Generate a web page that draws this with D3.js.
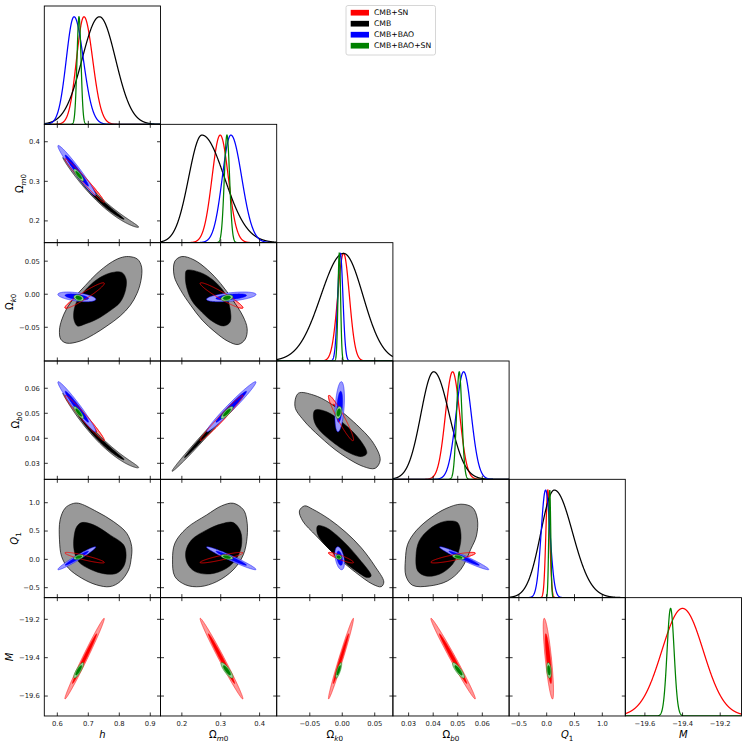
<!DOCTYPE html>
<html><head><meta charset="utf-8">
<script src="https://cdn.jsdelivr.net/npm/d3@7/dist/d3.min.js"></script>
<style>html,body{margin:0;padding:0;background:#fff;} svg{display:block;}</style>
</head><body>
<svg id="chart" width="748" height="748" xmlns="http://www.w3.org/2000/svg"></svg>
<script>
// ---------- parameters / axes ----------
const paramKeys = ["h","Om","Ok","Ob","Q1","M"];
const paramRanges = [[0.558,0.933],[0.145,0.444],[-0.101,0.078],[0.0236,0.0709],[-0.676,1.413],[-19.704,-19.087]];
const tickValues = [[0.6,0.7,0.8,0.9],[0.2,0.3,0.4],[-0.05,0,0.05],[0.03,0.04,0.05,0.06],[-0.5,0,0.5,1.0],[-19.6,-19.4,-19.2]];
const tickLabels = [["0.6","0.7","0.8","0.9"],["0.2","0.3","0.4"],["\u22120.05","0.00","0.05"],["0.03","0.04","0.05","0.06"],["\u22120.5","0.0","0.5","1.0"],["\u221219.6","\u221219.4","\u221219.2"]];
const labelMain = ["h","\u03A9","\u03A9","\u03A9","Q","M"];
const labelMainItalic = [true,false,false,false,true,true];
const labelSubText = ["","m0","k0","b0","1",""];

// ---------- datasets ----------
const datasetNames = ["CMB+SN","CMB","CMB+BAO","CMB+BAO+SN"];
const datasetColors = ["#ff0000","#000000","#0000ff","#008000"];
const datasetPale = ["#ff9999","#999999","#9999ff","#99cc99"];

// 1D marginals: peak position and left/right widths (order h, Om, Ok, Ob, Q1, M)
const peakRed    = [0.686, 0.2986, 0.002, 0.0479, 0.02, -19.40];
const sdLeftRed  = [0.024, 0.021, 0.009, 0.0029, 0.035, 0.11];
const sdRightRed = [0.028, 0.021, 0.009, 0.0029, 0.035, 0.11];
const peakCMB    = [0.736, 0.2515, 0.002, 0.0402, 0.137, null];
const sdLeftCMB  = [0.056, 0.034, 0.035, 0.0052, 0.242, null];
const sdRightCMB = [0.052, 0.058, 0.030, 0.0063, 0.327, null];
const peakBAO    = [0.654, 0.326, -0.003, 0.0524, -0.02, null];
const sdLeftBAO  = [0.025, 0.022, 0.004, 0.0031, 0.08, null];
const sdRightBAO = [0.030, 0.028, 0.004, 0.0031, 0.08, null];
const peakAll    = [0.670, 0.316, -0.0046, 0.0506, 0.055, -19.4635];
const sdLeftAll  = [0.0065, 0.0068, 0.002, 0.0011, 0.018, 0.0187];
const sdRightAll = [0.0065, 0.0068, 0.002, 0.0011, 0.018, 0.0187];

// 2D Gaussian contours: centre, width, correlations
// pair order: hOm,hOk,hOb,hQ1,hM,OmOk,OmOb,OmQ1,OmM,OkOb,OkQ1,OkM,ObQ1,ObM,Q1M
const center2Red = [0.688, 0.302, -0.002, 0.0481, 0.03, -19.405];
const sd2Red     = [0.026, 0.0225, 0.0079, 0.0037, 0.038, 0.086];
const corrRed    = [-0.985,0.95,-0.98,-0.9,0.99,-0.95,0.985,0.9,-0.99,-0.95,-0.9,0.985,0.85,-0.99,-0.8];
const center2BAO = [0.663, 0.327, -0.004, 0.0526, 0.02, null];
const sd2BAO     = [0.025, 0.026, 0.003, 0.0041, 0.083, null];
const corrBAO    = [-0.975,-0.5,-0.975,0.97,null,0.5,0.98,-0.97,null,0.35,-0.4,null,-0.97,null,null];
const center2All = [0.669, 0.316, -0.0055, 0.0503, 0.04, -19.466];
const sd2All     = [0.0065, 0.0063, 0.0019, 0.001, 0.017, 0.0166];
const corrAll    = [-0.85,-0.3,-0.85,0.5,0.85,0.3,0.85,-0.5,-0.85,0.3,-0.2,0.8,-0.5,-0.85,-0.3];

// CMB alone: thin curved degeneracies
const cmbThinPairs  = [[0,1],[0,3],[1,3]];
const cmbThinCenter = [[0.740,0.2537],[0.740,0.0398],[0.258,0.041]];
const cmbThinSd     = [[0.050,0.036],[0.050,0.0061],[0.034,0.0058]];
const cmbThinCorr   = [-0.995,-0.995,0.995];
const cmbThinBend   = [0.0037,0.00068,0];

// CMB alone: broad contours read as outlines (data units)
const cmbOuter_h_Ok = [[0.830,0.057],[0.859,0.053],[0.872,0.041],[0.870,0.021],[0.857,0.001],[0.835,-0.017],[0.803,-0.033],[0.760,-0.048],[0.717,-0.061],[0.673,-0.071],[0.630,-0.074],[0.611,-0.068],[0.607,-0.054],[0.614,-0.039],[0.630,-0.022],[0.657,-0.004],[0.690,0.013],[0.727,0.031],[0.770,0.047],[0.803,0.055]];
const cmbInner_h_Ok = [[0.808,0.033],[0.822,0.023],[0.820,0.006],[0.803,-0.012],[0.770,-0.025],[0.727,-0.038],[0.690,-0.045],[0.665,-0.048],[0.654,-0.039],[0.654,-0.024],[0.665,-0.009],[0.690,0.006],[0.727,0.022],[0.770,0.032]];
const cmbOuter_Om_Ok = [[0.200,0.057],[0.231,0.052],[0.266,0.037],[0.300,0.016],[0.330,-0.008],[0.357,-0.033],[0.368,-0.052],[0.363,-0.068],[0.345,-0.076],[0.318,-0.071],[0.285,-0.057],[0.252,-0.039],[0.223,-0.017],[0.196,0.007],[0.180,0.028],[0.182,0.050]];
const cmbInner_Om_Ok = [[0.212,0.036],[0.247,0.033],[0.281,0.021],[0.311,0.001],[0.324,-0.022],[0.324,-0.042],[0.308,-0.048],[0.281,-0.042],[0.251,-0.027],[0.225,-0.009],[0.212,0.011],[0.209,0.028]];
const cmbOuter_h_Q1 = [[0.668,0.991],[0.727,0.844],[0.781,0.668],[0.824,0.461],[0.840,0.226],[0.838,0.0],[0.830,-0.186],[0.803,-0.392],[0.770,-0.481],[0.727,-0.451],[0.679,-0.333],[0.636,-0.157],[0.614,0.049],[0.607,0.344],[0.609,0.697],[0.625,0.903],[0.647,0.979]];
const cmbInner_h_Q1 = [[0.679,0.650],[0.717,0.609],[0.770,0.432],[0.814,0.256],[0.822,0.079],[0.814,-0.127],[0.792,-0.245],[0.754,-0.257],[0.706,-0.174],[0.668,-0.039],[0.654,0.167],[0.654,0.402],[0.663,0.579]];
const cmbOuter_Om_Q1 = [[0.332,0.991],[0.358,0.879],[0.367,0.697],[0.368,0.402],[0.358,0.079],[0.332,-0.186],[0.290,-0.392],[0.247,-0.481],[0.210,-0.451],[0.182,-0.304],[0.176,-0.009],[0.182,0.285],[0.212,0.550],[0.264,0.785],[0.302,0.944]];
const cmbInner_Om_Q1 = [[0.332,0.650],[0.351,0.491],[0.353,0.226],[0.341,0.020],[0.315,-0.157],[0.273,-0.257],[0.234,-0.216],[0.214,-0.069],[0.210,0.138],[0.225,0.344],[0.264,0.520],[0.302,0.627]];
const cmbOuter_Ok_Ob = [[-0.0676,0.0580],[-0.0445,0.0573],[-0.0187,0.0540],[0.0173,0.0466],[0.0481,0.0380],[0.0584,0.0313],[0.0507,0.0280],[0.0327,0.0287],[-0.0033,0.0340],[-0.0342,0.0406],[-0.0599,0.0473],[-0.0728,0.0526]];
const cmbInner_Ok_Ob = [[-0.0419,0.0513],[-0.0239,0.0506],[0.0018,0.0460],[0.0275,0.0393],[0.0378,0.0340],[0.0301,0.0327],[0.0121,0.0340],[-0.0187,0.0393],[-0.0393,0.0446],[-0.0445,0.0486]];
const cmbOuter_Ok_Q1 = [[-0.058,0.944],[-0.0455,0.885],[-0.020,0.709],[0.006,0.473],[0.029,0.208],[0.050,-0.116],[0.064,-0.399],[0.060,-0.482],[0.047,-0.440],[0.021,-0.234],[-0.0095,0.061],[-0.040,0.414],[-0.061,0.679],[-0.066,0.856]];
const cmbInner_Ok_Q1 = [[-0.038,0.591],[-0.025,0.562],[0.001,0.326],[0.0265,0.002],[0.0445,-0.293],[0.039,-0.322],[0.021,-0.204],[-0.002,0.002],[-0.025,0.237],[-0.038,0.444]];
const cmbOuter_Ob_Q1 = [[0.0513,0.974],[0.0560,0.915],[0.0580,0.709],[0.0576,0.414],[0.0553,0.179],[0.0513,-0.175],[0.0458,-0.381],[0.0384,-0.470],[0.0316,-0.458],[0.0289,-0.293],[0.0287,0.002],[0.0296,0.266],[0.0330,0.503],[0.0391,0.738],[0.0452,0.897]];
const cmbInner_Ob_Q1 = [[0.0465,0.679],[0.0499,0.650],[0.0513,0.444],[0.0506,0.179],[0.0479,-0.086],[0.0425,-0.263],[0.0370,-0.293],[0.0337,-0.204],[0.0330,0.061],[0.0343,0.326],[0.0384,0.532],[0.0431,0.650]];
const cmbPolyPairs = [[0,2],[1,2],[0,4],[1,4],[2,3],[2,4],[3,4]];
const cmbPolyOuter = [cmbOuter_h_Ok,cmbOuter_Om_Ok,cmbOuter_h_Q1,cmbOuter_Om_Q1,cmbOuter_Ok_Ob,cmbOuter_Ok_Q1,cmbOuter_Ob_Q1];
const cmbPolyInner = [cmbInner_h_Ok,cmbInner_Om_Ok,cmbInner_h_Q1,cmbInner_Om_Q1,cmbInner_Ok_Ob,cmbInner_Ok_Q1,cmbInner_Ob_Q1];

// ---------- layout ----------
const svg = d3.select("#chart");
const FONT = "DejaVu Sans, Liberation Sans, sans-serif";
const L0 = 44.3, PW = 116.2, T0 = 6, PH = 118.33, NP = 6;
const TICK = 3.5, TICKFS = 6.8, LABFS = 10;
const R68 = Math.sqrt(-2*Math.log(0.32)), R95 = Math.sqrt(-2*Math.log(0.05));
const xScale = j => d3.scaleLinear().domain(paramRanges[j]).range([L0 + j*PW, L0 + (j+1)*PW]);
const yScale = i => d3.scaleLinear().domain(paramRanges[i]).range([T0 + (i+1)*PH, T0 + i*PH]);
const pairOrder = [];
for (let a=0;a<NP;a++) for (let b=a+1;b<NP;b++) pairOrder.push([a,b]);
const pairIndex = (a,b) => pairOrder.findIndex(p => p[0]===a && p[1]===b);

const defs = svg.append("defs");
for (let i=0;i<NP;i++) for (let j=0;j<=i;j++) {
  defs.append("clipPath").attr("id",`clip-${i}-${j}`).append("rect")
    .attr("x", L0 + j*PW).attr("y", T0 + i*PH).attr("width", PW).attr("height", PH);
}

// ---------- 1D marginals ----------
const series1D = [
  {peak: peakRed, sdL: sdLeftRed, sdR: sdRightRed, color: datasetColors[0]},
  {peak: peakCMB, sdL: sdLeftCMB, sdR: sdRightCMB, color: datasetColors[1]},
  {peak: peakBAO, sdL: sdLeftBAO, sdR: sdRightBAO, color: datasetColors[2]},
  {peak: peakAll, sdL: sdLeftAll, sdR: sdRightAll, color: datasetColors[3]}
];
for (let k=0;k<NP;k++) {
  const xs = xScale(k);
  const ys = d3.scaleLinear().domain([0,1.1]).range([T0 + (k+1)*PH, T0 + k*PH]);
  const g = svg.append("g").attr("clip-path", `url(#clip-${k}-${k})`);
  const grid = d3.range(0, 1201).map(q => paramRanges[k][0] + (paramRanges[k][1]-paramRanges[k][0])*q/1200);
  series1D.forEach(s => {
    if (s.peak[k] == null) return;
    const dens = x => { const sd = x < s.peak[k] ? s.sdL[k] : s.sdR[k]; const z = (x - s.peak[k])/sd; return Math.exp(-0.5*z*z); };
    g.append("path").attr("d", d3.line().x(x => xs(x)).y(x => ys(dens(x)))(grid))
      .attr("fill","none").attr("stroke", s.color).attr("stroke-width", 1.25);
  });
}

// ---------- 2D contours ----------
function ellipsePts(mx,my,sx,sy,rho,bend,r) {
  const q = Math.sqrt(1 - rho*rho), pts = [];
  for (let k=0;k<=240;k++) {
    const t = 2*Math.PI*k/240, a = r*Math.cos(t), b = r*Math.sin(t);
    pts.push([mx + sx*a, my + sy*(rho*a + q*b) + bend*(a*a - 1)]);
  }
  return pts;
}
const gaussSets = [
  {center: center2Red, sd: sd2Red, corr: corrRed, ds: 0},
  {center: center2BAO, sd: sd2BAO, corr: corrBAO, ds: 2},
  {center: center2All, sd: sd2All, corr: corrAll, ds: 3}
];
for (let i=1;i<NP;i++) for (let j=0;j<i;j++) {
  const xs = xScale(j), ys = yScale(i);
  const g = svg.append("g").attr("clip-path", `url(#clip-${i}-${j})`);
  const line = d3.line().x(d => xs(d[0])).y(d => ys(d[1]));
  const smooth = d3.line().x(d => xs(d[0])).y(d => ys(d[1])).curve(d3.curveCatmullRomClosed.alpha(0.5));
  const drawGauss = (set, linesOnly) => {
    const c = set.center, s = set.sd;
    if (c[j] == null || c[i] == null) return;
    const rho = set.corr[pairIndex(j,i)];
    const col = datasetColors[set.ds], pale = datasetPale[set.ds];
    const outer = ellipsePts(c[j], c[i], s[j], s[i], rho, 0, R95);
    if (linesOnly) {
      g.append("path").attr("d", line(outer)).attr("fill","none").attr("stroke", col).attr("stroke-width", 0.8);
      return;
    }
    const inner = ellipsePts(c[j], c[i], s[j], s[i], rho, 0, R68);
    g.append("path").attr("d", line(outer)).attr("fill", pale).attr("stroke", col).attr("stroke-width", 0.5);
    g.append("path").attr("d", line(inner)).attr("fill", col).attr("stroke", col).attr("stroke-width", 0.5);
  };
  // CMB+SN fills
  drawGauss(gaussSets[0], false);
  // CMB alone
  let hasCMB = false;
  const tIdx = cmbThinPairs.findIndex(p => p[0]===j && p[1]===i);
  if (tIdx >= 0) {
    hasCMB = true;
    const [mx,my] = cmbThinCenter[tIdx], [sx,sy] = cmbThinSd[tIdx];
    const o = ellipsePts(mx,my,sx,sy,cmbThinCorr[tIdx],cmbThinBend[tIdx],R95);
    const n = ellipsePts(mx,my,sx,sy,cmbThinCorr[tIdx],cmbThinBend[tIdx],R68);
    g.append("path").attr("d", line(o)).attr("fill", datasetPale[1]).attr("stroke","#000").attr("stroke-width",0.6);
    g.append("path").attr("d", line(n)).attr("fill", "#000").attr("stroke","#000").attr("stroke-width",0.5);
  }
  const pIdx = cmbPolyPairs.findIndex(p => p[0]===j && p[1]===i);
  if (pIdx >= 0) {
    hasCMB = true;
    g.append("path").attr("d", smooth(cmbPolyOuter[pIdx])).attr("fill", datasetPale[1]).attr("stroke","#000").attr("stroke-width",0.7);
    g.append("path").attr("d", smooth(cmbPolyInner[pIdx])).attr("fill", "#000").attr("stroke","#000").attr("stroke-width",0.5);
  }
  // CMB+BAO
  drawGauss(gaussSets[1], false);
  // CMB+SN outline kept visible
  if (hasCMB) drawGauss(gaussSets[0], true);
  // CMB+BAO+SN
  drawGauss(gaussSets[2], false);
}

// ---------- frames and ticks ----------
const axG = svg.append("g");
for (let i=0;i<NP;i++) for (let j=0;j<=i;j++) {
  const x0 = L0 + j*PW, y0 = T0 + i*PH;
  const xs = xScale(j), ys = yScale(i);
  tickValues[j].forEach(v => {
    const x = xs(v);
    axG.append("line").attr("x1",x).attr("x2",x).attr("y1",y0+PH).attr("y2",y0+PH-TICK).attr("stroke","#000").attr("stroke-width",0.8);
    if (i !== j) axG.append("line").attr("x1",x).attr("x2",x).attr("y1",y0).attr("y2",y0+TICK).attr("stroke","#000").attr("stroke-width",0.8);
  });
  if (i !== j) tickValues[i].forEach(v => {
    const y = ys(v);
    axG.append("line").attr("x1",x0).attr("x2",x0+TICK).attr("y1",y).attr("y2",y).attr("stroke","#000").attr("stroke-width",0.8);
    axG.append("line").attr("x1",x0+PW).attr("x2",x0+PW-TICK).attr("y1",y).attr("y2",y).attr("stroke","#000").attr("stroke-width",0.8);
  });
  axG.append("rect").attr("x",x0).attr("y",y0).attr("width",PW).attr("height",PH)
    .attr("fill","none").attr("stroke","#000").attr("stroke-width",0.9);
}

// tick labels
const bottomY = T0 + NP*PH;
for (let j=0;j<NP;j++) {
  const xs = xScale(j);
  tickValues[j].forEach((v,q) => {
    axG.append("text").attr("x", xs(v)).attr("y", bottomY + 9.6).attr("text-anchor","middle")
      .attr("font-family",FONT).attr("font-size",TICKFS).attr("fill","#222").text(tickLabels[j][q]);
  });
}
const leftWidths = [];
for (let i=1;i<NP;i++) {
  const ys = yScale(i);
  let maxW = 0;
  tickValues[i].forEach((v,q) => {
    const t = axG.append("text").attr("x", L0 - 4.5).attr("y", ys(v)).attr("dy","0.35em").attr("text-anchor","end")
      .attr("font-family",FONT).attr("font-size",TICKFS).attr("fill","#222").text(tickLabels[i][q]);
    maxW = Math.max(maxW, t.node().getComputedTextLength());
  });
  leftWidths[i] = maxW;
}

// axis labels
function axisLabel(parent, k) {
  const t = parent.append("text").attr("font-family",FONT).attr("font-size",LABFS).attr("fill","#000").attr("text-anchor","middle");
  t.append("tspan").attr("font-style", labelMainItalic[k] ? "italic" : "normal").text(labelMain[k]);
  const sub = labelSubText[k];
  if (sub) {
    const chars = sub.split("");
    chars.forEach((ch, n) => {
      const sp = t.append("tspan").attr("font-size", LABFS*0.72).attr("font-style", /[a-z]/.test(ch) ? "italic" : "normal").text(ch);
      if (n === 0) sp.attr("dy", LABFS*0.28);
    });
  }
  return t;
}
for (let j=0;j<NP;j++) {
  const cx = L0 + (j+0.5)*PW;
  axisLabel(axG, j).attr("x", cx).attr("y", bottomY + 22.5);
}
for (let i=1;i<NP;i++) {
  const cy = T0 + (i+0.5)*PH;
  const cx = L0 - 4.5 - leftWidths[i] - 5.5;
  axisLabel(axG, i).attr("transform", `translate(${cx},${cy}) rotate(-90)`).attr("x",0).attr("y",0);
}

// ---------- legend ----------
const lg = svg.append("g");
lg.append("rect").attr("x",346).attr("y",5.5).attr("width",89.5).attr("height",49.5).attr("rx",2)
  .attr("fill","#fff").attr("stroke","#cccccc").attr("stroke-width",0.8);
datasetNames.forEach((name, d) => {
  const yc = 12.7 + 11*d;
  lg.append("rect").attr("x",350.7).attr("y",yc-2.85).attr("width",18.3).attr("height",5.7).attr("fill",datasetColors[d]);
  lg.append("text").attr("x",374).attr("y",yc).attr("dy","0.35em").attr("font-family",FONT).attr("font-size",7.7).attr("fill","#000").text(name);
});
</script>
</body></html>
